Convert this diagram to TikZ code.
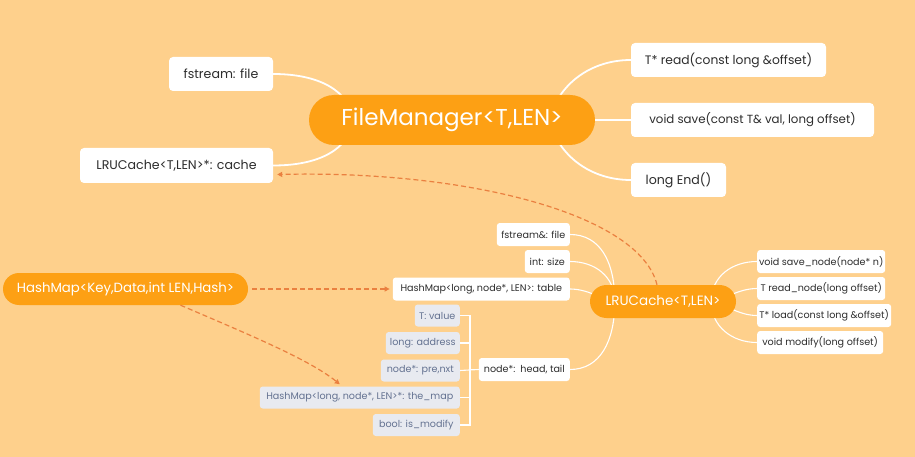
\documentclass[tikz,border=0pt]{standalone}
\usepackage{fontspec}
\setmainfont{Poppins}
\usetikzlibrary{arrows.meta}
\pgfdeclarelayer{bglayer}
\pgfdeclarelayer{edges}
\pgfsetlayers{bglayer,edges,main}
\definecolor{bg}{RGB}{254,208,140}
\definecolor{orn}{RGB}{253,160,20}
\definecolor{dsh}{RGB}{234,128,64}
\definecolor{gbox}{RGB}{232,234,240}
\definecolor{gtxt}{RGB}{100,114,145}
\definecolor{dtxt}{RGB}{45,45,45}
\tikzset{
  mainnode/.style={fill=orn,text=white,inner sep=0pt},
  wbox/.style={fill=white,text=dtxt,rounded corners=4pt,inner sep=0pt},
  sbox/.style={fill=white,text=dtxt,rounded corners=3pt,inner sep=0pt,minimum height=23pt,font=\fontsize{9.6}{10}\selectfont},
  gboxs/.style={fill=gbox,text=gtxt,rounded corners=3pt,inner sep=0pt,minimum height=22pt,font=\fontsize{9.6}{10}\selectfont},
  wline/.style={draw=white,line width=1.8pt},
  tline/.style={draw=white,line width=1.1pt},
  dline/.style={draw=dsh,line width=1.2pt,dash pattern=on 5pt off 3pt,-{Triangle[length=5pt,width=5pt]}},
}
\begin{document}
\begin{tikzpicture}[x=1pt,y=-1pt]
\begin{pgfonlayer}{bglayer}
\fill[bg] (0,0) rectangle (915,457);
\end{pgfonlayer}
\useasboundingbox (0,0) rectangle (915,457);
% FileManager
\node[mainnode,minimum width=286pt,minimum height=50pt,rounded corners=25pt,font=\fontsize{23}{23}\selectfont] (fm) at (452,120) {FileManager<T,LEN>};
\node[wbox,minimum width=104pt,minimum height=34pt,font=\fontsize{12.6}{13}\selectfont] (fs) at (221,74) {fstream: file};
\node[wbox,minimum width=193pt,minimum height=35pt,font=\fontsize{12.6}{13}\selectfont] (cache) at (176.5,165.5) {LRUCache<T,LEN>*: cache};
\node[wbox,minimum width=195pt,minimum height=34pt,font=\fontsize{12.3}{13}\selectfont] (rd) at (728.5,60) {T* read(const long \&offset)};
\node[wbox,minimum width=243pt,minimum height=34pt,font=\fontsize{11.8}{13}\selectfont] (sv) at (752.5,120) {void save(const T\& val, long offset)};
\node[wbox,minimum width=95pt,minimum height=34pt,font=\fontsize{12.6}{13}\selectfont] (en) at (678.5,180) {long End()};
% LRUCache
\node[mainnode,minimum width=146pt,minimum height=33pt,rounded corners=16.5pt,font=\fontsize{13.5}{14}\selectfont] (lru) at (663,301.5) {LRUCache<T,LEN>};
\node[sbox,anchor=east,minimum width=73pt] (ff) at (570,234.5) {fstream\&: file};
\node[sbox,anchor=east,minimum width=45pt] (sz) at (570,261.5) {int: size};
\node[sbox,anchor=east,minimum width=177pt] (tb) at (570,289) {HashMap<long, node*, LEN>: table};
\node[sbox,anchor=east,minimum width=91pt] (hd) at (570,369.5) {node*:\ \ head, tail};
\node[sbox,anchor=west,minimum width=128pt] (sn) at (757,261.5) {void save\_node(node* n)};
\node[sbox,anchor=west,minimum width=128pt] (rn) at (757,288.5) {T read\_node(long offset)};
\node[sbox,anchor=west,minimum width=134pt] (ld) at (757,315.5) {T* load(const long \&offset)};
\node[sbox,anchor=west,minimum width=126pt] (md) at (757,342.5) {void modify(long offset)};
% node* children
\node[gboxs,anchor=east,minimum width=45pt] (tv) at (460,315.5) {T: value};
\node[gboxs,anchor=east,minimum width=74pt] (la) at (460,343) {long: address};
\node[gboxs,anchor=east,minimum width=79pt] (pn) at (460,370.5) {node*: pre,nxt};
\node[gboxs,anchor=east,minimum width=200pt] (tm) at (460,397.5) {HashMap<long, node*, LEN>*: the\_map};
\node[gboxs,anchor=east,minimum width=87pt] (im) at (460,425) {bool: is\_modify};
% HashMap
\node[mainnode,minimum width=245pt,minimum height=32pt,rounded corners=16pt,font=\fontsize{13.3}{14}\selectfont] (hm) at (125.5,289) {HashMap<Key,Data,int LEN,Hash>};
\begin{pgfonlayer}{edges}
\draw[wline] (fs.east) .. controls +(45,0) and +(-5,-30) .. ([xshift=45pt]fm.west);
\draw[wline] (cache.east) .. controls +(45,0) and +(-5,30) .. ([xshift=45pt]fm.west);
\draw[wline] (rd.west) .. controls +(-45,0) and +(5,-30) .. ([xshift=-45pt]fm.east);
\draw[wline] (sv.west) -- (fm.east);
\draw[wline] (en.west) .. controls +(-45,0) and +(5,30) .. ([xshift=-45pt]fm.east);
\draw[tline] (ff.east) .. controls +(30,0) and +(0,-40) .. ([xshift=25pt]lru.west);
\draw[tline] (sz.east) .. controls +(25,0) and +(0,-25) .. ([xshift=25pt]lru.west);
\draw[tline] (tb.east) .. controls +(20,0) and +(-10,0) .. ([xshift=25pt]lru.west);
\draw[tline] (hd.east) .. controls +(30,0) and +(0,40) .. ([xshift=25pt]lru.west);
\draw[tline] (sn.west) .. controls +(-25,0) and +(0,-25) .. ([xshift=-25pt]lru.east);
\draw[tline] (rn.west) .. controls +(-20,0) and +(10,0) .. ([xshift=-25pt]lru.east);
\draw[tline] (ld.west) .. controls +(-20,0) and +(10,0) .. ([xshift=-25pt]lru.east);
\draw[tline] (md.west) .. controls +(-25,0) and +(0,25) .. ([xshift=-25pt]lru.east);
\draw[tline] (tv.east) -- ++(10,0) |- (hd.west);
\draw[tline] (la.east) -- ++(10,0) |- (hd.west);
\draw[tline] (pn.east) -- (hd.west);
\draw[tline] (tm.east) -- ++(10,0) |- (hd.west);
\draw[tline] (im.east) -- ++(10,0) |- (hd.west);
\end{pgfonlayer}
\draw[dline] ([xshift=4pt]hm.east) -- ([xshift=-3pt]tb.west);
\draw[dline] ([xshift=55pt]hm.south) .. controls (250,335) and (310,360) .. ([xshift=-20pt,yshift=2pt]tm.north);
\draw[dline] ([xshift=-6pt]lru.north) .. controls (640,215) and (470,170) .. ([xshift=4pt,yshift=-9pt]cache.east);
\end{tikzpicture}
\end{document}
